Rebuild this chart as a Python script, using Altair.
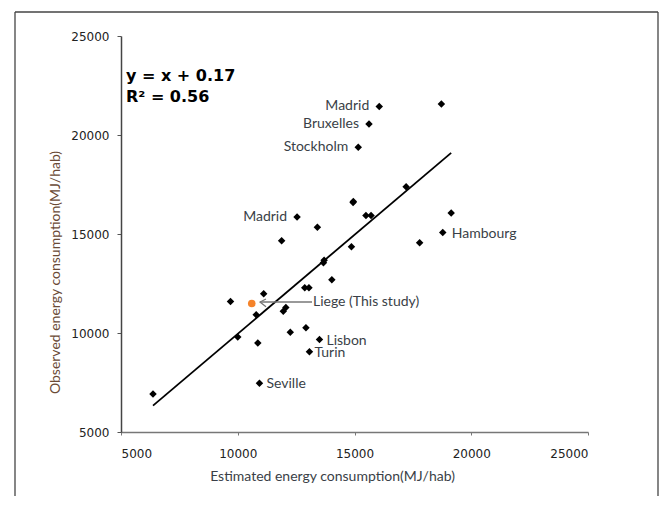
import altair as alt
import pandas as pd

# Scatter points (estimated vs observed, MJ/hab)
est = [6370, 10000, 9690, 11110, 10790, 10860, 10930, 11950, 12060, 12250,
       11880, 12540, 13410, 12870, 13050, 12920, 13500, 13070, 13670, 13700,
       14030, 14870, 14940, 14950, 15490, 15710, 15160, 15620, 16060, 17210,
       18720, 19140, 18780, 17790]
obs = [6920, 9800, 11590, 11980, 10920, 9500, 7460, 11100, 11290, 10040,
       14660, 15860, 15340, 12290, 12290, 10260, 9670, 9050, 13550, 13670,
       12690, 14360, 16590, 16640, 15940, 15940, 19380, 20560, 21440, 17390,
       21560, 16060, 15070, 14560]

# Liege (this study)
liege_x = [10600]
liege_y = [11490]

# Regression line end points
line_x = [6370, 19140]
line_y = [6330, 19100]

# Labels to the left of their points
left_names = ["Madrid", "Bruxelles", "Stockholm", "Madrid"]
left_x = [16060, 15620, 15160, 12540]
left_y = [21440, 20560, 19380, 15860]

# Labels to the right of their points
right_names = ["Hambourg", "Lisbon", "Turin", "Seville"]
right_x = [18780, 13500, 13070, 10930]
right_y = [15070, 9670, 9050, 7460]
right_dx = [9, 7, 5, 7]

# Callout for Liege
callout_x = [10953, 13180]
callout_y = [11566, 11566]
callout_label = ["Liege (This study)"]
callout_label_x = [13223]

# Equation text
eq_text = ["y = x + 0.17", "R² = 0.56"]
eq_x = [5214, 5214]
eq_y = [22980, 21919]

ticks = [5000, 10000, 15000, 20000, 25000]

pts = pd.DataFrame({"x": est, "y": obs})
lg = pd.DataFrame({"x": liege_x, "y": liege_y})
ln = pd.DataFrame({"x": line_x, "y": line_y})
lft = pd.DataFrame({"x": left_x, "y": left_y, "t": left_names})
rgt = pd.DataFrame({"x": right_x, "y": right_y, "t": right_names, "dx": right_dx})
co = pd.DataFrame({"x": callout_x, "y": callout_y})
col = pd.DataFrame({"x": callout_label_x, "y": [callout_y[0]], "t": callout_label})
eq = pd.DataFrame({"x": eq_x, "y": eq_y, "t": eq_text})

xs = alt.Scale(domain=[5000, 25000], nice=False, zero=False)
ys = alt.Scale(domain=[5000, 25000], nice=False, zero=False)

X = alt.X("x:Q", scale=xs, axis=alt.Axis(
    values=ticks, title="Estimated energy consumption(MJ/hab)", grid=False,
    format="d", tickSize=3, labelPadding=13, domainColor="#777777", tickColor="#777777",
    domainWidth=1.5, labelFont="DejaVu Sans", labelFontSize=12, labelColor="#222222",
    titleFont="Lato", titleFontSize=14, titleFontWeight="normal", titleColor="#3a3f47",
    titleX=211, titleY=44, titleBaseline="middle"))
Y = alt.Y("y:Q", scale=ys, axis=alt.Axis(
    values=ticks, title="Observed energy consumption(MJ/hab)", grid=False,
    format="d", tickSize=4, labelPadding=8, domainColor="#444444", tickColor="#555555",
    domainWidth=1.5, labelFont="DejaVu Sans", labelFontSize=12, labelColor="#222222",
    titleFont="Lato", titleFontSize=14, titleFontWeight="normal", titleColor="#6a4a36",
    titleX=-66, titleY=236, titleAngle=270, titleBaseline="middle", titleAlign="center"))

one = pd.DataFrame({"a": [0]})
fstyle = dict(stroke="#444444", strokeWidth=1.3, clip=False)
f_top = alt.Chart(one).mark_rule(**fstyle).encode(x=alt.value(-106), x2=alt.value(537), y=alt.value(-24))
f_left = alt.Chart(one).mark_rule(**fstyle).encode(x=alt.value(-106), y=alt.value(-24), y2=alt.value(520))
f_right = alt.Chart(one).mark_rule(**fstyle).encode(x=alt.value(537), y=alt.value(-24), y2=alt.value(520))

base_pts = alt.Chart(pts).mark_point(shape="diamond", filled=True, color="black", size=56, opacity=1).encode(x=X, y=Y)
reg = alt.Chart(ln).mark_line(color="black", strokeWidth=1.8).encode(x="x:Q", y="y:Q")
lg_pt = alt.Chart(lg).mark_point(shape="circle", filled=True, color="#f5832a", size=58, opacity=1).encode(x="x:Q", y="y:Q")
co_line = alt.Chart(co).mark_line(color="#777777", strokeWidth=1.5).encode(x="x:Q", y="y:Q")
arrow = alt.Chart(co.iloc[[0]]).mark_point(
    shape="M1,-0.5L0,0L1,0.8", filled=False, stroke="#777777", strokeWidth=1.2, size=144, opacity=1
).encode(x="x:Q", y="y:Q")

lfont = dict(font="Lato", fontSize=14, color="#3a3f47")
t_left = alt.Chart(lft).mark_text(align="right", baseline="middle", dx=-10, **lfont).encode(x="x:Q", y="y:Q", text="t:N")
right_layers = [
    alt.Chart(rgt.iloc[[i]]).mark_text(align="left", baseline="middle", dx=int(rgt.dx[i]), dy=1, **lfont)
    .encode(x="x:Q", y="y:Q", text="t:N")
    for i in range(len(rgt))
]
t_co = alt.Chart(col).mark_text(align="left", baseline="middle", **lfont).encode(x="x:Q", y="y:Q", text="t:N")
t_eq = alt.Chart(eq).mark_text(align="left", baseline="middle", font="DejaVu Sans", fontSize=16,
                               fontWeight="bold", color="black").encode(x="x:Q", y="y:Q", text="t:N")

chart = alt.layer(f_top, f_left, f_right, base_pts, reg, co_line, arrow, lg_pt, t_left, *right_layers, t_co, t_eq).properties(
    width=467, height=396,
    autosize=alt.AutoSizeParams(type="none"),
    padding={"left": 113, "top": 28, "right": 71, "bottom": 64},
    background="white",
).configure_view(stroke=None)

chart.save("out.html", embed_options={"renderer": "svg", "actions": False})
